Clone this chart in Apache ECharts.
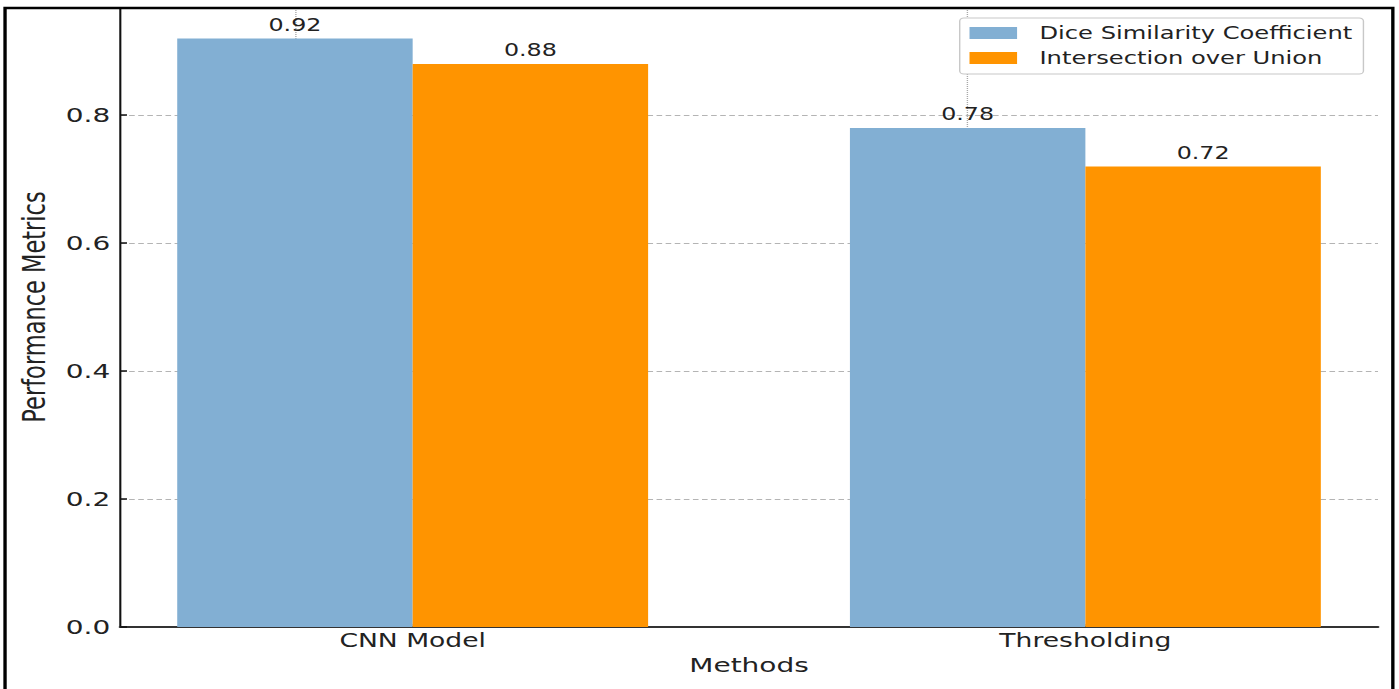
<!DOCTYPE html>
<html>
<head>
<meta charset="utf-8">
<title>Performance Metrics by Method</title>
<script src="https://cdn.jsdelivr.net/npm/echarts@6/dist/echarts.min.js"></script>
<style>
  html, body { margin: 0; padding: 0; background: #fff; overflow: hidden; }
  /* the figure is laid out at 1000px and widened to the full 1399px page */
  #chart { width: 1000px; height: 689px; transform: scaleX(1.399); transform-origin: 0 0; }
</style>
</head>
<body>
<div id="chart"></div>
<script>
// ---- data ----
const categories = ['CNN Model', 'Thresholding'];
const categoryPositions = [0, 1];
const diceValues = [0.92, 0.78];
const iouValues = [0.88, 0.72];
const seriesNames = ['Dice Similarity Coefficient', 'Intersection over Union'];
const yTicks = [0.0, 0.2, 0.4, 0.6, 0.8];

const FONT = 'DejaVu Sans';
const chart = echarts.init(document.getElementById('chart'), null, { renderer: 'svg' });

const toPoints = vals => categoryPositions.map((x, i) => [x, vals[i]]);

const barLabel = {
  show: true,
  position: 'top',
  distance: 5,
  fontFamily: FONT,
  fontSize: 17,
  color: '#222',
  formatter: p => p.value[1].toFixed(2)
};

chart.setOption({
  backgroundColor: '#fff',
  animation: false,
  graphic: [{
    type: 'rect',
    silent: true,
    z: 100,
    shape: { x: 3.6, y: 8, width: 992, height: 800 },
    style: { fill: 'none', stroke: '#000', lineWidth: 2.4 }
  }],
  legend: {
    data: seriesNames,
    orient: 'vertical',
    left: 686,
    top: 18,
    padding: [5, 8, 6, 7],
    itemGap: 5,
    itemWidth: 34,
    itemHeight: 12,
    icon: 'rect',
    backgroundColor: '#fff',
    borderColor: '#c8c8c8',
    borderWidth: 1,
    borderRadius: 3,
    textStyle: {
      fontFamily: FONT,
      fontSize: 17.3,
      lineHeight: 20,
      color: '#222',
      padding: [0, 0, 0, 11]
    }
  },
  grid: { left: 85.8, right: 15, top: 9, bottom: 62 },
  xAxis: {
    type: 'value',
    min: -0.435,
    max: 1.435,
    name: 'Methods',
    nameLocation: 'middle',
    nameGap: 26,
    nameTextStyle: { fontFamily: FONT, fontSize: 20, color: '#222' },
    axisLine: { show: true, onZero: false, lineStyle: { color: '#333', width: 2 } },
    axisTick: { show: true, inside: true, length: 3, customValues: categoryPositions, lineStyle: { color: '#333' } },
    axisLabel: {
      customValues: categoryPositions,
      margin: 4,
      fontFamily: FONT,
      fontSize: 19,
      color: '#222',
      formatter: v => categories[Math.round(v)]
    },
    splitLine: { show: false }
  },
  yAxis: {
    type: 'value',
    min: 0,
    max: 0.966,
    interval: 0.2,
    name: 'Performance Metrics',
    nameLocation: 'middle',
    nameGap: 50,
    nameTextStyle: { fontFamily: FONT, fontSize: 22.5, color: '#222', padding: [0, 0, 0, 22] },
    axisLine: { show: true, onZero: false, lineStyle: { color: '#111', width: 1.5 } },
    axisTick: { show: true, inside: true, length: 5, customValues: yTicks, lineStyle: { color: '#111', width: 1.5 } },
    axisLabel: {
      customValues: yTicks,
      margin: 7,
      fontFamily: FONT,
      fontSize: 20,
      color: '#222',
      formatter: v => v.toFixed(1)
    },
    splitLine: { show: true, lineStyle: { color: '#b4b4b4', width: 1, type: [4, 2.5] } }
  },
  series: [
    {
      name: seriesNames[0],
      type: 'bar',
      data: toPoints(diceValues),
      barWidth: '35%',
      barGap: '0%',
      itemStyle: { color: '#82afd3' },
      label: barLabel,
      markLine: {
        silent: true,
        z: 1,
        symbol: 'none',
        label: { show: false },
        lineStyle: { color: '#a8a8a8', width: 1, type: 'dotted' },
        data: categoryPositions.map(x => ({ xAxis: x }))
      }
    },
    {
      name: seriesNames[1],
      type: 'bar',
      data: toPoints(iouValues),
      barWidth: '35%',
      barGap: '0%',
      itemStyle: { color: '#ff9400' },
      label: barLabel
    }
  ]
});
</script>
</body>
</html>
